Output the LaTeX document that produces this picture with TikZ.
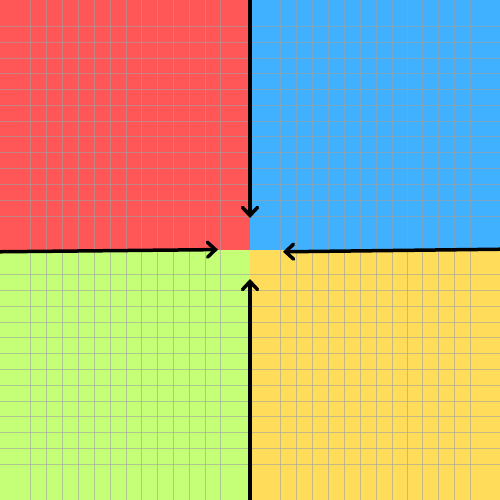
\documentclass[tikz,border=0pt]{standalone}
\usetikzlibrary{arrows.meta}
\definecolor{qred}{RGB}{255,87,87}
\definecolor{qblue}{RGB}{64,177,255}
\definecolor{qgreen}{RGB}{197,255,119}
\definecolor{qyellow}{RGB}{255,221,90}
\definecolor{gridc}{RGB}{160,160,160}
\begin{document}
\begin{tikzpicture}[x=1pt,y=-1pt,
  gridline/.style={draw=gridc, draw opacity=0.6, line width=1pt},
  bigarrow/.style={line width=3.5pt, line cap=round, -{Straight Barb[length=8pt,width=15pt,line cap=round]}}]
\useasboundingbox (0,0) rectangle (500,500);
\fill[white] (0,0) rectangle (500,500);
\fill[qred] (0,0) rectangle (249.6,250);
\fill[qblue] (250.4,0) rectangle (500,250);
\fill[qgreen] (0,250) rectangle (249.6,500);
\fill[qyellow] (250.4,250) rectangle (500,500);
\foreach \gx in {30,46,62,78,94,110,126,141,157,173,189,205,220,280,296,312,328,344,360,376,392,407,422,438,454,470}
  \draw[gridline] (\gx+0.5,0) -- (\gx+0.5,500);
\foreach \gy in {26,42,58,73,89,105,121,136,152,168,184,200,216,274,290,306,322,337,353,369,385,401,416,432,448,464}
  \draw[gridline] (0,\gy+0.5) -- (500,\gy+0.5);
\coordinate (topS) at (250,-3);
\coordinate (topE) at (250,218);
\coordinate (leftS) at (-3,251.8);
\coordinate (leftE) at (218,249.6);
\coordinate (rightS) at (503,249.2);
\coordinate (rightE) at (283,251.8);
\coordinate (botS) at (250,503);
\coordinate (botE) at (250,279);
\draw[bigarrow] (topS) -- (topE);
\draw[bigarrow] (leftS) -- (leftE);
\draw[bigarrow] (rightS) -- (rightE);
\draw[bigarrow] (botS) -- (botE);
\end{tikzpicture}
\end{document}
